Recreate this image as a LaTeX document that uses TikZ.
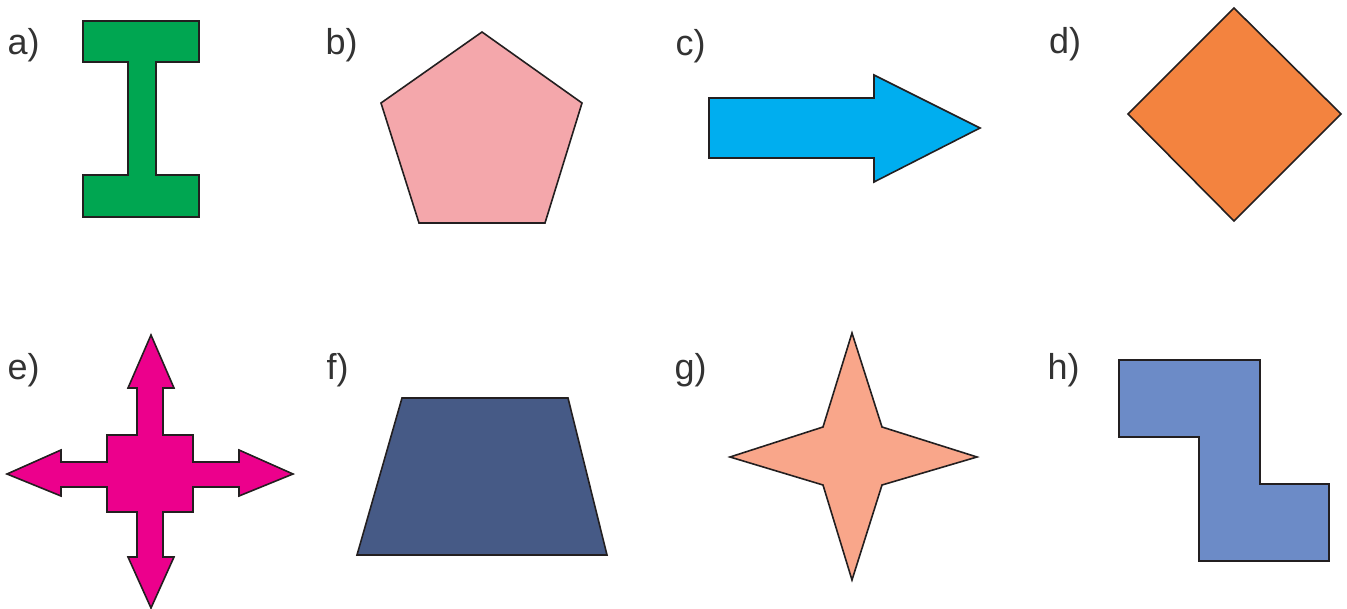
\documentclass[tikz,border=0pt]{standalone}
\usepackage{fontspec}
\setmainfont{Liberation Sans}
\definecolor{lbl}{HTML}{333333}
\definecolor{cA}{HTML}{00A651}
\definecolor{cB}{HTML}{F4A7AB}
\definecolor{cC}{HTML}{00AEEF}
\definecolor{cD}{HTML}{F3833F}
\definecolor{cE}{HTML}{EC008C}
\definecolor{cF}{HTML}{465A86}
\definecolor{cG}{HTML}{F9A68A}
\definecolor{cH}{HTML}{6C8BC7}
\definecolor{edge}{HTML}{231F20}
\tikzset{
  lab/.style={anchor=base west, inner sep=0pt, text=lbl, font=\fontsize{36}{40}\selectfont},
  shp/.style={draw=edge, line width=1.6pt, line join=miter}
}
\begin{document}
\begin{tikzpicture}[x=1pt,y=-1pt]
\useasboundingbox (0,0) rectangle (1347,609);
% labels
\node[lab] (la) at (7.5,55) {a)};
\node[lab] (lb) at (325.5,55) {b)};
\node[lab] (lc) at (675.5,56) {c)};
\node[lab] (ld) at (1049,54) {d)};
\node[lab] (le) at (7.5,380) {e)};
\node[lab] (lf) at (326.5,380) {f)};
\node[lab] (lg) at (674.5,380) {g)};
\node[lab] (lh) at (1047.5,380) {h)};
% a) I-beam
\draw[shp, fill=cA] (83,21) -- (199,21) -- (199,62) -- (156,62) -- (156,175) -- (199,175) -- (199,217)
  -- (83,217) -- (83,175) -- (128,175) -- (128,62) -- (83,62) -- cycle;
% b) pentagon
\draw[shp, fill=cB] (482,32) -- (582,103) -- (545,223) -- (419,223) -- (381,103) -- cycle;
% c) arrow
\draw[shp, fill=cC] (709,98) -- (874,98) -- (874,75) -- (980,128) -- (874,182) -- (874,158) -- (709,158) -- cycle;
% d) diamond
\draw[shp, fill=cD] (1234,8) -- (1341,114) -- (1234,221) -- (1128,114) -- cycle;
% e) four arrows
\draw[shp, fill=cE]
  (151,335) -- (174,388) -- (163,388) -- (163,435) -- (193,435) -- (193,462)
  -- (239,462) -- (239,450) -- (293,474) -- (239,496) -- (239,487) -- (193,487)
  -- (193,512) -- (163,512) -- (163,557) -- (174,557) -- (151,608) -- (128,557)
  -- (137,557) -- (137,512) -- (107,512) -- (107,487) -- (61,487) -- (61,496)
  -- (7,474) -- (61,450) -- (61,462) -- (107,462) -- (107,435) -- (137,435)
  -- (137,388) -- (128,388) -- cycle;
% f) trapezoid
\draw[shp, fill=cF] (402,398) -- (568,398) -- (607,555) -- (357,555) -- cycle;
% g) four-pointed star
\draw[shp, fill=cG] (852,333) -- (882,427) -- (977,457) -- (882,485) -- (852,580)
  -- (823,485) -- (730,457) -- (823,427) -- cycle;
% h) Z shape
\draw[shp, fill=cH] (1119,360) -- (1260,360) -- (1260,484) -- (1329,484) -- (1329,561)
  -- (1199,561) -- (1199,437) -- (1119,437) -- cycle;
\end{tikzpicture}
\end{document}
